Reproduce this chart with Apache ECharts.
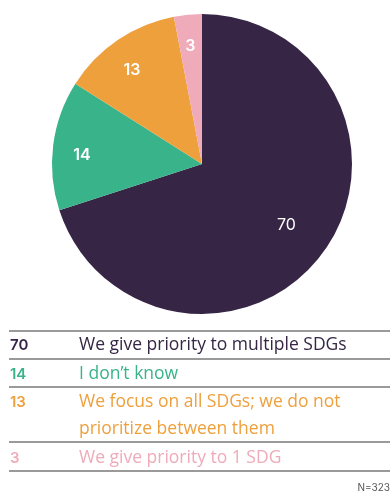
<!DOCTYPE html>
<html>
<head>
<meta charset="utf-8">
<script src="https://cdn.jsdelivr.net/npm/echarts@6/dist/echarts.min.js"></script>
<style>
  html, body { margin: 0; padding: 0; background: #ffffff; }
  #chart { width: 390px; height: 494px; }
</style>
</head>
<body>
<div id="chart"></div>
<script>
// Survey answers on SDG prioritisation (percent of respondents)
const categories = [
  'We give priority to multiple SDGs',
  'I don\u2019t know',
  'We focus on all SDGs; we do not prioritize between them',
  'We give priority to 1 SDG'
];
// Table wording, one entry per printed line
const tableLines = [
  ['We give priority to multiple SDGs'],
  ['I don\u2019t know'],
  ['We focus on all SDGs; we do not', 'prioritize between them'],
  ['We give priority to 1 SDG']
];
const values = [70, 14, 13, 3];
const colors = ['#362544', '#39b38a', '#eea03d', '#efabb9'];
const sampleNote = 'N=323';

const FONT = 'Inter, "Noto Sans", sans-serif';
const TABLE_FONT = '"Open Sans", Inter, sans-serif';

const chart = echarts.init(document.getElementById('chart'), null, { renderer: 'canvas' });

// Table under the pie: rule lines and rows
const graphics = [];
const ruleYs = [331, 359, 387, 442, 471];
const rowYs = [345, 374, 402, 458];
const lineGap = 27;
ruleYs.forEach(function (y) {
  graphics.push({
    type: 'rect',
    shape: { x: 9, y: y - 1, width: 381, height: 2 },
    style: { fill: '#9a9a9a' },
    silent: true
  });
});
values.forEach(function (v, i) {
  graphics.push({
    type: 'text',
    x: 10, y: rowYs[i],
    style: {
      text: String(v), fill: colors[i], font: '600 15px ' + FONT,
      verticalAlign: 'middle', textAlign: 'left'
    },
    silent: true
  });
  tableLines[i].forEach(function (line, k) {
    graphics.push({
      type: 'text',
      x: 79, y: rowYs[i] + k * lineGap,
      style: {
        text: line, fill: colors[i], font: '400 17.5px ' + TABLE_FONT,
        verticalAlign: 'middle', textAlign: 'left'
      },
      silent: true
    });
  });
});
graphics.push({
  type: 'text',
  x: 390, y: 488,
  style: {
    text: sampleNote, fill: '#555555', font: '400 10px ' + FONT,
    textAlign: 'right', verticalAlign: 'middle'
  },
  silent: true
});

// small nudges so each value sits where it reads best inside its slice
const labelNudges = [[-15, -11], [2, 7], [-1, 8], [0, 5]];

chart.setOption({
  animation: false,
  backgroundColor: '#ffffff',
  graphic: graphics,
  series: [
    {
      // filled slices
      type: 'pie',
      center: [202, 164],
      radius: [0, 150],
      startAngle: 90,
      clockwise: true,
      silent: true,
      label: { show: false },
      labelLine: { show: false },
      itemStyle: { borderWidth: 0 },
      data: categories.map(function (c, i) {
        return { name: c, value: values[i], itemStyle: { color: colors[i] } };
      })
    },
    {
      // transparent ring carrying the slice values, nearer the rim
      type: 'pie',
      center: [202, 164],
      radius: [90, 150],
      startAngle: 90,
      clockwise: true,
      silent: true,
      labelLine: { show: false },
      itemStyle: { color: 'rgba(0,0,0,0)', borderWidth: 0 },
      label: {
        show: true,
        position: 'inside',
        color: '#ffffff',
        fontFamily: FONT,
        fontSize: 16,
        fontWeight: 600,
        formatter: function (p) { return String(p.value); }
      },
      data: categories.map(function (c, i) {
        const item = { name: c, value: values[i], label: { offset: labelNudges[i] } };
        if (i === 0) item.label.fontWeight = 400;
        return item;
      })
    }
  ]
});
</script>
</body>
</html>
